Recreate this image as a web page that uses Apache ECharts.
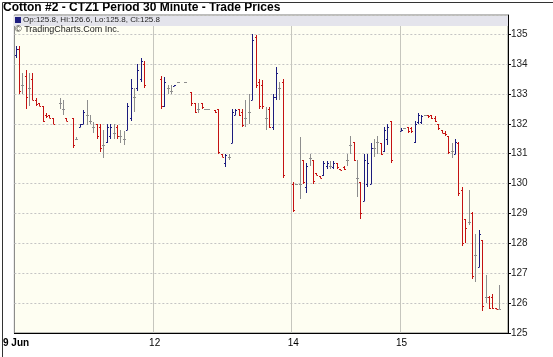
<!DOCTYPE html>
<html lang="en">
<head>
    <meta charset="UTF-8">
    <title>Cotton #2 - CTZ1</title>
    <style>
        html, body { margin: 0; padding: 0; background: #fff; }
        #main { width: 553px; height: 357px; }
    </style>
</head>
<body>
<div id="main"></div>
<script src="https://cdn.jsdelivr.net/npm/echarts@6/dist/echarts.min.js"></script>
<script>
    // 30 minute bars, one slot per index (null = no trade in that slot)
    var opens = [
        134.3, 134.5, 133.3, 133.6, 133.2, 133.5, 132.8, 132.7, 132.6, 132.3,
        132.3, 132.2, null, 132.7, 132.5, 132.2, null, 132.2, 131.5, 131.9,
        132.0, 132.3, 132.1, 131.9, 132.0, 131.9, 131.3, 131.4, 131.6, 131.7,
        131.9, 131.6, 131.5, 131.8, 132.2, 132.9, 133.2, 133.5, 134.0, null,
        null, null, null, 133.5, 132.6, 133.2, 133.1, 133.25, 133.4, null,
        133.4, null, 133.05, 132.7, 132.5, 132.7, 132.5, 132.5, null, 132.45,
        132.5, 131.0, 130.7, 130.9, 131.35, 132.3, 132.5, 132.4, 132.2, 132.4,
        132.8, 134.9, 133.4, 133.3, 132.2, 132.5, 131.9, 132.9, 133.2, 133.4,
        null, null, 130.0, 130.0, 130.0, 130.8, 129.9, 130.85, 130.8, 130.35,
        130.25, 130.3, 130.6, 130.6, 130.55, 130.7, 130.5, 130.55, 130.8, 131.3,
        131.4, 130.2, 130.05, 129.4, 130.0, 130.0, 131.2, 131.4, 131.35, 131.1,
        131.5, 132.1, null, null, 131.75, 131.85, 131.9, 131.85, 131.4, 132.05,
        132.05, 132.3, 132.3, 132.3, 132.2, 132.0, 131.8, 131.7, 131.6, 131.1,
        131.0, 131.35, 129.8, 128.8, 128.7, 129.0, 127.6, 127.2, 128.1, 126.2,
        126.2, 126.2, 125.85, 125.8
    ];
    var highs = [
        134.6, 134.6, 133.7, 133.8, 133.7, 133.7, 132.85, 132.7, 132.6, 132.35,
        132.3, 132.2, null, 132.85, 132.8, 132.2, null, 132.2, 131.55, 132.0,
        132.45, 132.8, 132.3, 132.05, 132.0, 132.0, 131.8, 132.0, 132.0, 132.0,
        131.95, 131.8, 131.75, 132.7, 133.5, 133.2, 134.0, 134.2, 134.1, null,
        null, null, null, 133.6, 133.55, 133.3, 133.3, 133.3, 133.4, null,
        133.4, null, 133.05, 132.7, 132.7, 132.7, 132.5, 132.5, null, 132.45,
        132.5, 131.0, 131.0, 131.0, 132.5, 132.5, 132.5, 132.5, 132.8, 133.0,
        135.0, 134.97, 133.5, 133.45, 132.55, 132.55, 133.0, 133.9, 133.4, 133.5,
        null, null, 130.05, 130.0, 131.55, 130.8, 130.7, 131.0, 130.8, 130.35,
        130.25, 130.75, 130.75, 130.75, 130.75, 130.7, 130.5, 130.6, 131.0, 131.6,
        131.4, 130.8, 130.05, 131.0, 131.0, 131.35, 131.5, 131.6, 131.35, 131.9,
        132.0, 132.1, null, null, 131.85, 131.85, 131.9, 131.9, 132.1, 132.35,
        132.3, 132.3, 132.3, 132.3, 132.25, 132.0, 131.8, 131.75, 131.6, 131.35,
        131.5, 131.4, 129.9, 128.8, 129.8, 129.05, 128.3, 128.45, 128.1, 126.95,
        126.25, 126.3, 125.85, 126.6
    ];
    var lows = [
        134.2, 133.0, 133.0, 132.5, 132.6, 132.8, 132.6, 132.6, 132.05, 132.2,
        132.2, 132.0, null, 132.5, 132.3, 132.1, null, 131.2, 131.45, 131.9,
        132.0, 131.95, 132.0, 131.7, 131.5, 131.05, 130.85, 131.35, 131.5, 131.5,
        131.5, 131.35, 131.3, 131.8, 132.1, 132.4, 133.1, 133.4, 133.2, null,
        null, null, null, 132.5, 132.55, 133.0, 133.0, 133.25, 133.4, null,
        133.4, null, 132.6, 132.35, 132.35, 132.5, 132.5, 132.5, null, 132.35,
        131.0, 130.9, 130.55, 130.8, 131.35, 132.3, 132.25, 131.9, 131.9, 132.0,
        132.8, 133.2, 132.5, 132.5, 131.8, 131.85, 131.8, 132.8, 132.8, 130.2,
        null, null, 129.05, 130.0, 129.5, 130.0, 129.7, 130.6, 130.0, 130.3,
        130.2, 130.25, 130.5, 130.5, 130.5, 130.5, 130.45, 130.45, 130.6, 131.0,
        130.75, 129.55, 128.8, 129.4, 129.9, 130.0, 130.9, 131.0, 130.95, 131.05,
        131.3, 130.7, null, null, 131.75, 131.85, 131.7, 131.7, 131.35, 132.0,
        132.0, 132.3, 132.2, 132.15, 132.05, 131.8, 131.7, 131.6, 131.0, 130.85,
        131.0, 129.6, 127.9, 128.0, 128.6, 126.8, 126.7, 127.2, 125.75, 126.0,
        125.8, 125.8, 125.8, 125.8
    ];
    var closes = [
        134.5, 133.1, 133.3, 132.9, 133.2, 132.8, 132.65, 132.6, 132.1, 132.25,
        132.2, 132.0, null, 132.7, 132.5, 132.1, null, 131.3, 131.5, 132.0,
        132.4, 132.3, 132.1, 131.9, 131.6, 131.2, 131.3, 131.9, 131.9, 131.7,
        131.6, 131.6, 131.5, 132.6, 133.2, 132.9, 133.8, 134.1, 133.3, null,
        null, null, null, 132.6, 133.4, 133.2, 133.1, 133.3, 133.4, null,
        133.4, null, 132.7, 132.4, 132.5, 132.55, 132.5, 132.5, null, 132.4,
        131.05, 130.9, 130.95, 130.9, 132.4, 132.45, 132.3, 131.95, 132.2, 132.4,
        134.8, 133.3, 132.6, 132.6, 132.2, 131.9, 132.9, 133.7, 133.2, 130.3,
        null, null, 129.1, 130.0, 130.0, 130.05, 130.6, 130.85, 130.1, 130.3,
        130.2, 130.7, 130.7, 130.6, 130.7, 130.55, 130.45, 130.5, 130.8, 131.3,
        130.8, 130.2, 129.0, 130.8, 130.7, 131.2, 131.2, 131.4, 131.0, 131.8,
        131.9, 130.8, null, null, 131.8, 131.85, 131.75, 131.75, 132.0, 132.3,
        132.25, 132.3, 132.25, 132.2, 132.1, 131.85, 131.7, 131.65, 131.05, 131.1,
        131.4, 129.7, 128.0, 128.5, 128.7, 126.9, 127.6, 128.3, 125.9, 126.2,
        125.85, 125.85, 125.8, 125.8
    ];
    var slotCount = 146;
    var dayStarts = [0, 41, 82, 114];
    var dayNames = ['9 Jun', '12', '14', '15'];
    var priceTicks = [125, 126, 127, 128, 129, 130, 131, 132, 133, 134, 135];

    var UP = '#1c1c7e', DOWN = '#c41212', FLAT = '#8e8e8e';

    var slots = [];
    for (var i = 0; i < slotCount; i++) {
        slots.push(String(i));
    }
    var bars = [];
    for (var i = 0; i < opens.length; i++) {
        if (opens[i] == null) continue;
        bars.push([i, opens[i], highs[i], lows[i], closes[i]]);
    }
    var last = opens.length - 1;
    var quote = 'Op:' + opens[last] + ', Hi:' + highs[last] + ', Lo:' + lows[last] + ', Cl:' + closes[last];

    function crisp(v) {
        return Math.round(v) + 0.5;
    }

    function renderBar(params, api) {
        var idx = api.value(0);
        var o = api.value(1), c = api.value(4);
        var pH = api.coord([idx, api.value(2)]);
        var pL = api.coord([idx, api.value(3)]);
        var pO = api.coord([idx, o]);
        var pC = api.coord([idx, c]);
        var x = crisp(pH[0] - 0.5);
        var color = c > o ? UP : (c < o ? DOWN : FLAT);
        var st = { stroke: color, lineWidth: 1 };
        var yH = Math.round(pH[1]), yL = Math.round(pL[1]);
        if (yL - yH < 1) yL = yH + 1;
        return {
            type: 'group',
            children: [
                { type: 'line', shape: { x1: x, y1: yH, x2: x, y2: yL }, style: st },
                { type: 'line', shape: { x1: x - 1.5, y1: crisp(pO[1]), x2: x, y2: crisp(pO[1]) }, style: st },
                { type: 'line', shape: { x1: x, y1: crisp(pC[1]), x2: x + 1.5, y2: crisp(pC[1]) }, style: st }
            ]
        };
    }

    var chart = echarts.init(document.getElementById('main'), null, { renderer: 'canvas' });
    chart.setOption({
        animation: false,
        backgroundColor: '#ffffff',
        textStyle: { fontFamily: 'Liberation Sans, Arial, sans-serif' },
        title: {
            text: 'Cotton #2 - CTZ1 Period 30 Minute - Trade Prices',
            left: 3,
            top: 2,
            padding: 0,
            textStyle: { fontSize: 12, fontWeight: 'bold', color: '#000', lineHeight: 12 }
        },
        grid: {
            left: 13, right: 45, top: 15, bottom: 24,
            show: true,
            backgroundColor: '#fefef2',
            borderColor: '#7a7a7a',
            borderWidth: 1
        },
        xAxis: {
            type: 'category',
            data: slots,
            boundaryGap: true,
            axisLine: { show: true, lineStyle: { color: '#000', width: 1 } },
            axisTick: { show: false },
            axisLabel: {
                interval: function (index) {
                    return dayStarts.indexOf(index) >= 0;
                },
                formatter: function (value, index) {
                    var k = dayStarts.indexOf(Number(value));
                    if (k < 0) return '';
                    return k === 0 ? '{b|' + dayNames[k] + '}' : dayNames[k];
                },
                margin: 5,
                fontSize: 10,
                color: '#000',
                rich: { b: { fontSize: 10, fontWeight: 'bold', color: '#000' } }
            },
            splitLine: {
                show: true,
                interval: function (index) {
                    return index > 0 && dayStarts.indexOf(index) >= 0;
                },
                lineStyle: { color: '#c6c6be', width: 1 }
            }
        },
        yAxis: {
            type: 'value',
            position: 'right',
            min: priceTicks[0],
            max: 135.64,
            interval: 1,
            axisLine: { show: true, lineStyle: { color: '#000', width: 1 } },
            axisTick: { show: true, length: 3, lineStyle: { color: '#000' } },
            axisLabel: {
                showMaxLabel: false,
                margin: 3,
                fontSize: 10,
                color: '#222',
                formatter: function (v) {
                    return priceTicks.indexOf(v) >= 0 ? String(v) : '';
                }
            },
            splitLine: {
                show: true,
                lineStyle: { color: '#c4c4c4', width: 1, type: [2, 2] }
            }
        },
        graphic: [
            {
                type: 'rect', left: 14, top: 16, z: 10,
                shape: { width: 494, height: 10 },
                style: { fill: '#e4e4ec' }
            },
            {
                type: 'rect', left: 15, top: 17, z: 11,
                shape: { width: 6, height: 6 },
                style: { fill: '#1c1c7e' }
            },
            {
                type: 'text', left: 23, top: 16, z: 11,
                style: { text: quote, fontSize: 8, fill: '#222', fontFamily: 'Liberation Sans, Arial, sans-serif' }
            },
            {
                type: 'text', left: 15, top: 25, z: 11,
                style: { text: '\u00a9 TradingCharts.Com Inc.', fontSize: 9, fill: '#222', fontFamily: 'Liberation Sans, Arial, sans-serif' }
            },
            {
                type: 'rect', left: 0, top: 0, z: 20,
                shape: { width: 552, height: 356 },
                style: { fill: 'none', stroke: '#333', lineWidth: 1 }
            }
        ],
        series: [{
            type: 'custom',
            name: 'CTZ1',
            renderItem: renderBar,
            encode: { x: 0, y: [1, 2, 3, 4] },
            data: bars,
            clip: true
        }]
    });
</script>
</body>
</html>
